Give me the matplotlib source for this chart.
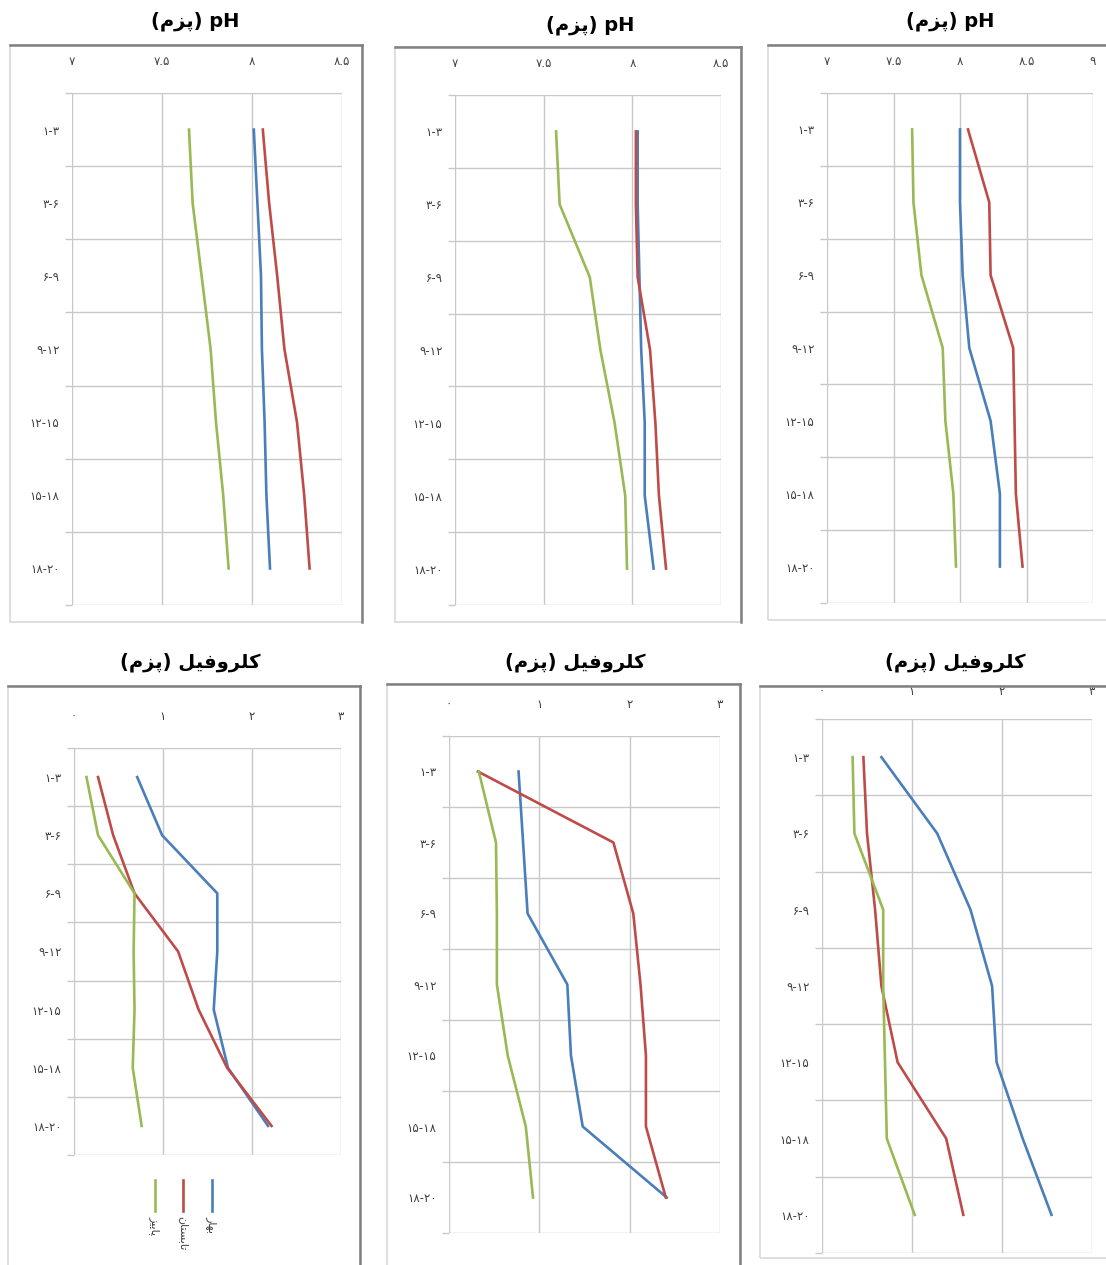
import matplotlib.pyplot as plt
from matplotlib.patches import Rectangle
from matplotlib.lines import Line2D
import numpy as np

W, H = 1106, 1265

# depth classes (cm), Persian digits
depths = ["۱-۳", "۳-۶", "۶-۹", "۹-۱۲", "۱۲-۱۵", "۱۵-۱۸", "۱۸-۲۰"]

# Persian text written in visual order with presentation forms
# (matplotlib has no Arabic shaping / bidi)
peh_zeh_mim = "\uFEE1\uFEB0\uFB58"                      # پزم
chlorophyll = "\uFEDE\uFBFF\uFED3\uFEED\uFEAE\uFEE0\uFB90"  # کلروفیل
title_ph = "(" + peh_zeh_mim + ") pH"
title_chl = "(" + peh_zeh_mim + ") " + chlorophyll
lab_spring = "\uFEAD\uFE8E\uFEEC\uFE91"                  # بهار
lab_summer = "\uFEE5\uFE8E\uFE98\uFEB4\uFE91\uFE8E\uFE97"  # تابستان
lab_autumn = "\uFEB0\uFBFF\uFBFE\uFE8E\uFB58"            # پاییز

# x ticks
ph_ticks_short = [7, 7.5, 8, 8.5]
ph_ticks_long = [7, 7.5, 8, 8.5, 9]
chl_ticks = [0, 1, 2, 3]
fa = {0: "۰", 1: "۱", 2: "۲", 3: "۳", 7: "۷", 7.5: "۷.۵", 8: "۸", 8.5: "۸.۵", 9: "۹"}

# pH, three stations
ph1_spring = [8.01, 8.03, 8.05, 8.055, 8.07, 8.08, 8.10]
ph1_summer = [8.06, 8.095, 8.14, 8.18, 8.25, 8.29, 8.32]
ph1_autumn = [7.65, 7.67, 7.72, 7.77, 7.80, 7.84, 7.87]

ph2_spring = [8.03, 8.03, 8.04, 8.05, 8.07, 8.07, 8.12]
ph2_summer = [8.02, 8.02, 8.03, 8.10, 8.13, 8.15, 8.19]
ph2_autumn = [7.57, 7.59, 7.76, 7.82, 7.90, 7.96, 7.97]

ph3_spring = [8.00, 8.00, 8.02, 8.07, 8.23, 8.30, 8.30]
ph3_summer = [8.06, 8.22, 8.23, 8.40, 8.41, 8.42, 8.47]
ph3_autumn = [7.64, 7.65, 7.71, 7.87, 7.89, 7.95, 7.97]

# chlorophyll, three stations
chl1_spring = [0.71, 0.99, 1.61, 1.61, 1.57, 1.73, 2.18]
chl1_summer = [0.27, 0.44, 0.68, 1.17, 1.40, 1.72, 2.22]
chl1_autumn = [0.14, 0.27, 0.68, 0.67, 0.68, 0.66, 0.76]

chl2_spring = [0.77, 0.82, 0.87, 1.31, 1.35, 1.48, 2.41]
chl2_summer = [0.32, 1.82, 2.04, 2.12, 2.18, 2.18, 2.40]
chl2_autumn = [0.33, 0.52, 0.53, 0.53, 0.65, 0.85, 0.93]

chl3_spring = [0.66, 1.28, 1.65, 1.89, 1.94, 2.23, 2.55]
chl3_summer = [0.46, 0.50, 0.59, 0.66, 0.84, 1.38, 1.57]
chl3_autumn = [0.34, 0.36, 0.68, 0.68, 0.70, 0.72, 1.03]

BLUE, RED, GREEN = "#4a7ebb", "#be4b48", "#98b954"
GRID = "#c8c8c8"
TXT = "#404040"

fig = plt.figure(figsize=(W / 100, H / 100), dpi=100)
fig.patch.set_facecolor("white")


def fx(x):
    return x / W


def fy(y):
    return 1 - y / H


def frame(x0, y0, x1, y1):
    fig.add_artist(Rectangle((fx(x0), fy(y1)), fx(x1) - fx(x0), fy(y0) - fy(y1),
                             transform=fig.transFigure, fill=False,
                             edgecolor="#d9d9d9", linewidth=1.2))
    fig.add_artist(Line2D([fx(x0), fx(x1)], [fy(y0), fy(y0)],
                          transform=fig.transFigure, color="#808080", linewidth=1.8))
    fig.add_artist(Line2D([fx(x1), fx(x1)], [fy(y0), fy(y1)],
                          transform=fig.transFigure, color="#808080", linewidth=1.8))


def panel(box, title, title_xy, ticks, xlim, spring, summer, autumn, xpad=18):
    x0, y0, x1, y1 = box
    ax = fig.add_axes([fx(x0), fy(y1), fx(x1) - fx(x0), fy(y0) - fy(y1)])
    yy = np.arange(len(depths))
    ax.plot(spring, yy, color=BLUE, linewidth=1.9, solid_joinstyle="round")
    ax.plot(summer, yy, color=RED, linewidth=1.9, solid_joinstyle="round")
    ax.plot(autumn, yy, color=GREEN, linewidth=1.9, solid_joinstyle="round")
    ax.set_xlim(xlim)
    ax.set_ylim(len(depths) - 0.5, -0.5)
    ax.set_xticks(ticks)
    ax.set_xticklabels([fa[t] for t in ticks])
    ax.xaxis.tick_top()
    ax.set_yticks(yy)
    ax.set_yticklabels(depths)
    ax.set_yticks(np.arange(-0.5, len(depths), 1), minor=True)
    ax.tick_params(axis="x", length=0, pad=xpad, labelsize=8.5, labelcolor=TXT)
    ax.tick_params(axis="y", which="major", length=0, pad=9, labelsize=8.5, labelcolor=TXT)
    ax.tick_params(axis="y", which="minor", length=5, width=1, color=GRID)
    ax.grid(axis="x", which="major", color=GRID, linewidth=1)
    ax.grid(axis="y", which="minor", color=GRID, linewidth=1)
    for s in ax.spines.values():
        s.set_visible(False)
    ax.set_axisbelow(True)
    fig.text(fx(title_xy[0]), fy(title_xy[1]), title, ha="center", va="center",
             fontsize=14, fontweight="bold", color="black")
    return ax


# frames
frame(10, 45, 362, 622)
frame(395, 47, 741, 622)
frame(768, 45, 1110, 620)
frame(8, 686, 360, 1270)
frame(387, 684, 740, 1270)
frame(760, 686, 1110, 1258)

panel((72, 93, 342, 605), title_ph, (195, 21), ph_ticks_short, (7, 8.5),
      ph1_spring, ph1_summer, ph1_autumn)
panel((455, 95, 721, 605), title_ph, (590, 25), ph_ticks_short, (7, 8.5),
      ph2_spring, ph2_summer, ph2_autumn)
panel((827, 93, 1093, 603), title_ph, (950, 21), ph_ticks_long, (7, 9),
      ph3_spring, ph3_summer, ph3_autumn)
panel((74, 748, 341, 1155), title_chl, (190, 662), chl_ticks, (0, 3),
      chl1_spring, chl1_summer, chl1_autumn)
panel((449, 736, 720, 1233), title_chl, (575, 662), chl_ticks, (0, 3),
      chl2_spring, chl2_summer, chl2_autumn)
panel((822, 719, 1092, 1253), title_chl, (955, 662), chl_ticks, (0, 3),
      chl3_spring, chl3_summer, chl3_autumn, xpad=15)

# legend (rotated, below first chlorophyll panel)
for xp, col, lab in [(155, GREEN, lab_autumn), (183, RED, lab_summer), (212, BLUE, lab_spring)]:
    fig.add_artist(Line2D([fx(xp), fx(xp)], [fy(1180), fy(1211)],
                          transform=fig.transFigure, color=col, linewidth=1.9))
    fig.text(fx(xp), fy(1216), lab, rotation=270, ha="center", va="top",
             fontsize=8, color=TXT)

fig.savefig("out.png", dpi=100, facecolor="white")
